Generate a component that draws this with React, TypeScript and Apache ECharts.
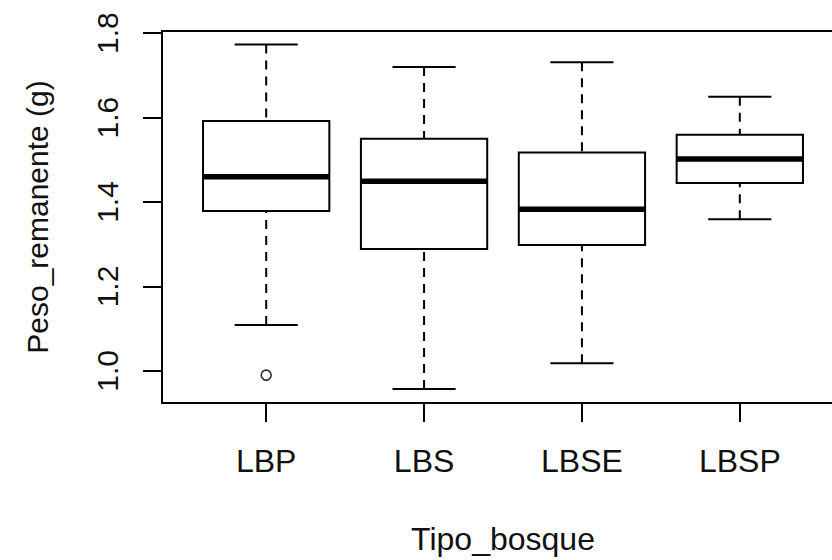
import React, { useEffect, useRef } from "react";
import * as echarts from "echarts";

const categories = ["LBP", "LBS", "LBSE", "LBSP"];
const lowerWhisker = [1.109, 0.957, 1.018, 1.359];
const q1 = [1.379, 1.289, 1.298, 1.445];
const median = [1.46, 1.449, 1.383, 1.502];
const q3 = [1.592, 1.55, 1.517, 1.559];
const upperWhisker = [1.773, 1.72, 1.731, 1.649];
const outliers: [number, number][] = [[0, 0.99]];
const yTicks = [1.0, 1.2, 1.4, 1.6, 1.8];

const FONT = "'Liberation Sans', Arial, sans-serif";
const TEXT = "#111";

export default function App() {
  const ref = useRef<HTMLDivElement>(null);
  useEffect(() => {
    if (!ref.current) return;
    const chart = echarts.init(ref.current, null, { renderer: "svg" });
    const boxData = categories.map((_, i) => [
      i + 1,
      lowerWhisker[i],
      q1[i],
      median[i],
      q3[i],
      upperWhisker[i],
    ]);
    const renderItem = (params: any, api: any) => {
      const x = api.value(0);
      const pLo = api.coord([x, api.value(1)]);
      const pQ1 = api.coord([x, api.value(2)]);
      const pMed = api.coord([x, api.value(3)]);
      const pQ3 = api.coord([x, api.value(4)]);
      const pHi = api.coord([x, api.value(5)]);
      const w = api.size([0.8, 0])[0];
      const cx = pMed[0];
      const stroke = "#000";
      return {
        type: "group",
        children: [
          {
            type: "line",
            shape: { x1: cx, y1: pHi[1], x2: cx, y2: pQ3[1] },
            style: { stroke, lineWidth: 2, lineDash: [9, 7] },
          },
          {
            type: "line",
            shape: { x1: cx, y1: pLo[1], x2: cx, y2: pQ1[1] },
            style: { stroke, lineWidth: 2, lineDash: [9, 7] },
          },
          {
            type: "line",
            shape: { x1: cx - w / 4, y1: pHi[1], x2: cx + w / 4, y2: pHi[1] },
            style: { stroke, lineWidth: 2 },
          },
          {
            type: "line",
            shape: { x1: cx - w / 4, y1: pLo[1], x2: cx + w / 4, y2: pLo[1] },
            style: { stroke, lineWidth: 2 },
          },
          {
            type: "rect",
            shape: { x: cx - w / 2, y: pQ3[1], width: w, height: pQ1[1] - pQ3[1] },
            style: { fill: "#fff", stroke, lineWidth: 2 },
          },
          {
            type: "line",
            shape: { x1: cx - w / 2, y1: pMed[1], x2: cx + w / 2, y2: pMed[1] },
            style: { stroke, lineWidth: 5.5 },
          },
        ],
      };
    };
    chart.setOption({
      animation: false,
      backgroundColor: "#fff",
      grid: {
        left: 162,
        top: 31,
        width: 682,
        height: 372,
        show: true,
        outerBoundsMode: "none",
        containLabel: false,
        borderColor: "#000",
        borderWidth: 2,
        backgroundColor: "transparent",
      },
      xAxis: {
        type: "value",
        min: 0.34,
        max: 4.66,
        name: "Tipo_bosque",
        nameLocation: "middle",
        nameGap: 120,
        nameTextStyle: { fontFamily: FONT, fontSize: 32, color: TEXT },
        axisLine: { show: false },
        splitLine: { show: false },
        axisTick: {
          show: true,
          length: 19,
          customValues: [1, 2, 3, 4],
          lineStyle: { color: "#000", width: 2 },
        },
        axisLabel: {
          customValues: [1, 2, 3, 4],
          formatter: (v: number) => categories[Math.round(v) - 1] ?? "",
          fontFamily: FONT,
          fontSize: 32,
          color: TEXT,
          margin: 42,
        },
      },
      yAxis: {
        type: "value",
        min: 0.924,
        max: 1.805,
        name: "Peso_remanente (g)",
        nameLocation: "middle",
        nameRotate: 90,
        nameGap: 110,
        nameTextStyle: { fontFamily: FONT, fontSize: 30, color: TEXT },
        axisLine: { show: false },
        splitLine: { show: false },
        axisTick: {
          show: true,
          length: 19,
          customValues: yTicks,
          lineStyle: { color: "#000", width: 2 },
        },
        axisLabel: {
          customValues: yTicks,
          formatter: (v: number) => v.toFixed(1),
          rotate: 90,
          fontFamily: FONT,
          fontSize: 30,
          color: TEXT,
          margin: 40,
        },
      },
      series: [
        {
          type: "custom",
          renderItem,
          data: boxData,
          encode: { x: 0, y: [1, 2, 3, 4, 5] },
        },
        {
          type: "scatter",
          symbol: "circle",
          symbolSize: 10,
          itemStyle: { color: "#fff", borderColor: "#000", borderWidth: 1.6 },
          data: outliers.map(([i, v]) => [i + 1, v]),
        },
      ],
    });
    return () => chart.dispose();
  }, []);
  return (
    <div style={{ position: "fixed", left: 0, top: 0, width: 832, height: 560, background: "#fff" }}>
      <div ref={ref} style={{ width: 832, height: 560 }} />
    </div>
  );
}
